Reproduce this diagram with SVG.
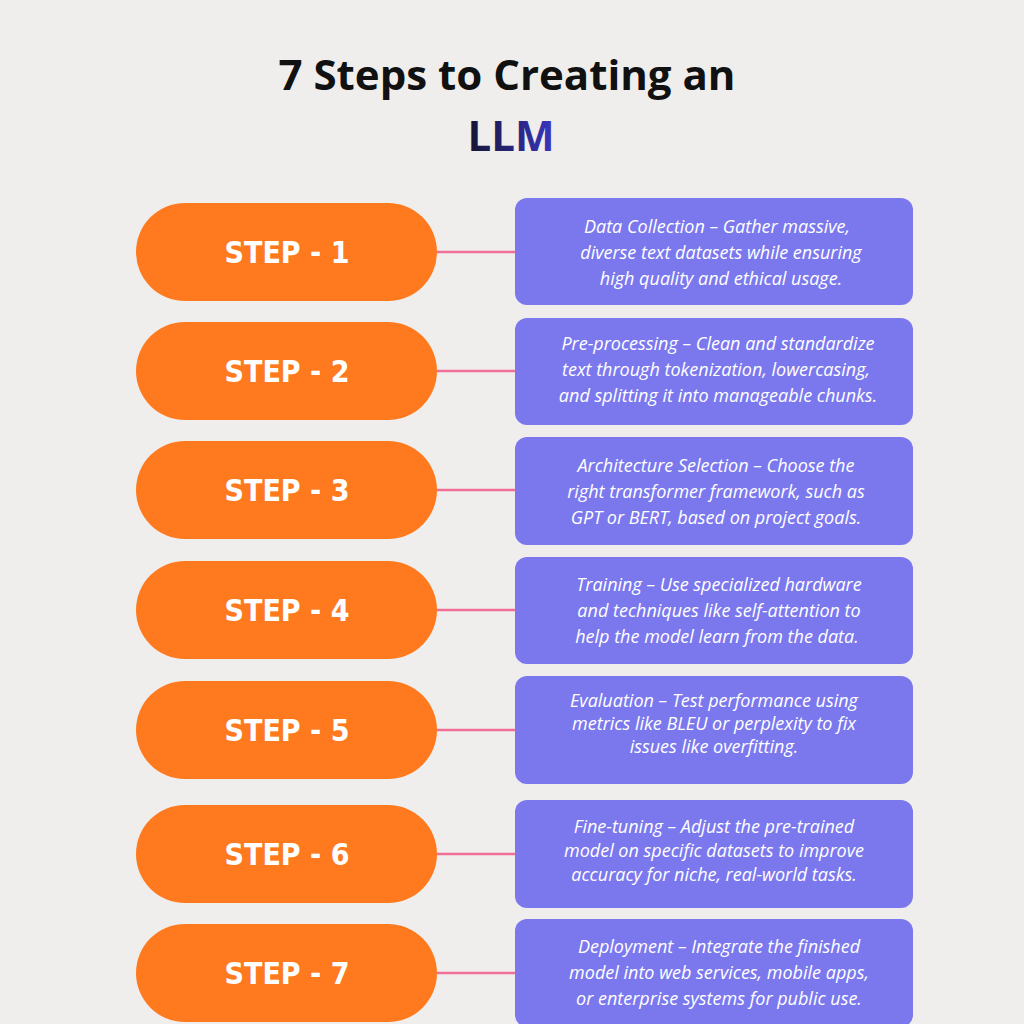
<svg xmlns="http://www.w3.org/2000/svg" width="1024" height="1024" viewBox="0 0 1024 1024">
<defs>
<linearGradient id="llm" x1="0" x2="1"><stop offset="0" stop-color="#141433"/><stop offset="1" stop-color="#3b35c0"/></linearGradient>
<style>
.pill{fill:#ff7a1f}
.box{fill:#7b78ee}
.st{font-family:"DejaVu Sans Condensed","DejaVu Sans",sans-serif;font-weight:bold;font-size:30px;fill:#fff;text-anchor:middle}
.tx{font-family:"Open Sans","Liberation Sans",sans-serif;font-style:italic;font-size:18px;fill:#fff;text-anchor:middle}
.ttl{font-family:"Open Sans","Liberation Sans",sans-serif;font-weight:bold;font-size:42px;text-anchor:middle}
#connectors line{stroke:#f0709a;stroke-width:2.5}
</style>
</defs>
<rect width="1024" height="1024" fill="#f0eeec"/>
<text class="ttl" x="507" y="90" fill="#111">7 Steps to Creating an</text>
<text class="ttl" x="511" y="151" fill="url(#llm)">LLM</text>
<g id="connectors">
<line x1="437" y1="252" x2="515" y2="252"/>
<line x1="437" y1="371" x2="515" y2="371"/>
<line x1="437" y1="490" x2="515" y2="490"/>
<line x1="437" y1="610" x2="515" y2="610"/>
<line x1="437" y1="730" x2="515" y2="730"/>
<line x1="437" y1="854" x2="515" y2="854"/>
<line x1="437" y1="973" x2="515" y2="973"/>
</g>
<g id="step1"><rect class="pill" x="136" y="203" width="301" height="98" rx="49"/><text class="st" x="287" y="263">STEP - 1</text></g>
<g id="step2"><rect class="pill" x="136" y="322" width="301" height="98" rx="49"/><text class="st" x="287" y="382">STEP - 2</text></g>
<g id="step3"><rect class="pill" x="136" y="441" width="301" height="98" rx="49"/><text class="st" x="287" y="501">STEP - 3</text></g>
<g id="step4"><rect class="pill" x="136" y="561" width="301" height="98" rx="49"/><text class="st" x="287" y="621">STEP - 4</text></g>
<g id="step5"><rect class="pill" x="136" y="681" width="301" height="98" rx="49"/><text class="st" x="287" y="741">STEP - 5</text></g>
<g id="step6"><rect class="pill" x="136" y="805" width="301" height="98" rx="49"/><text class="st" x="287" y="865">STEP - 6</text></g>
<g id="step7"><rect class="pill" x="136" y="924" width="301" height="98" rx="49"/><text class="st" x="287" y="984">STEP - 7</text></g>
<g id="desc1"><rect class="box" x="515" y="198" width="398" height="107" rx="12"/>
<text class="tx" x="717" y="233">Data Collection – Gather massive,</text><text class="tx" x="721" y="259">diverse text datasets while ensuring</text><text class="tx" x="721" y="285">high quality and ethical usage.</text></g>
<g id="desc2"><rect class="box" x="515" y="318" width="398" height="107" rx="12"/>
<text class="tx" x="718" y="350">Pre-processing – Clean and standardize</text><text class="tx" x="716" y="376">text through tokenization, lowercasing,</text><text class="tx" x="718" y="402">and splitting it into manageable chunks.</text></g>
<g id="desc3"><rect class="box" x="515" y="437" width="398" height="108" rx="12"/>
<text class="tx" x="716" y="472">Architecture Selection – Choose the</text><text class="tx" x="716" y="498">right transformer framework, such as</text><text class="tx" x="716" y="524">GPT or BERT, based on project goals.</text></g>
<g id="desc4"><rect class="box" x="515" y="557" width="398" height="107" rx="12"/>
<text class="tx" x="719" y="591">Training – Use specialized hardware</text><text class="tx" x="719" y="617">and techniques like self-attention to</text><text class="tx" x="717" y="643">help the model learn from the data.</text></g>
<g id="desc5"><rect class="box" x="515" y="676" width="398" height="108" rx="12"/>
<text class="tx" x="714" y="707">Evaluation – Test performance using</text><text class="tx" x="714" y="730">metrics like BLEU or perplexity to fix</text><text class="tx" x="714" y="753">issues like overfitting.</text></g>
<g id="desc6"><rect class="box" x="515" y="800" width="398" height="108" rx="12"/>
<text class="tx" x="714" y="833">Fine-tuning – Adjust the pre-trained</text><text class="tx" x="714" y="857">model on specific datasets to improve</text><text class="tx" x="714" y="881">accuracy for niche, real-world tasks.</text></g>
<g id="desc7"><rect class="box" x="515" y="919" width="398" height="108" rx="12"/>
<text class="tx" x="719" y="953">Deployment – Integrate the finished</text><text class="tx" x="719" y="979">model into web services, mobile apps,</text><text class="tx" x="719" y="1005">or enterprise systems for public use.</text></g>
</svg>
